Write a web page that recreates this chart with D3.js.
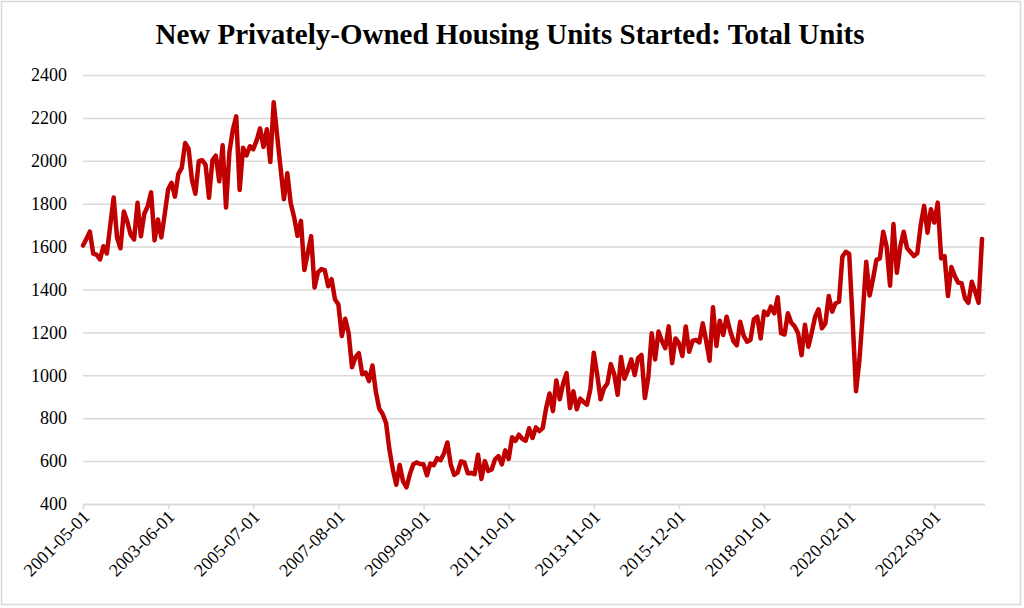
<!DOCTYPE html>
<html>
<head>
<meta charset="utf-8">
<script src="https://cdn.jsdelivr.net/npm/d3@7"></script>
<style>
  body { margin: 0; background: #fff; }
  #root { width: 1024px; height: 608px; }
</style>
</head>
<body>
<div id="root"></div>
<script>
// monthly starts, thousands of units (SAAR), 2001-05 .. 2023-05
var startMonth = "2001-05-01";
var starts = [
  1605, 1636, 1670, 1567, 1562, 1540, 1602, 1568,
  1698, 1829, 1642, 1592, 1764, 1717, 1655, 1633, 1804, 1648, 1753, 1788,
  1853, 1629, 1726, 1643, 1751, 1867, 1897, 1833, 1939, 1967, 2083, 2057,
  1911, 1846, 1998, 2003, 1981, 1828, 2002, 2024, 1905, 2072, 1782, 2042,
  2144, 2207, 1864, 2061, 2025, 2068, 2054, 2095, 2151, 2065, 2147, 1994,
  2273, 2119, 1969, 1821, 1942, 1802, 1737, 1650, 1720, 1491, 1570, 1649,
  1409, 1480, 1495, 1490, 1415, 1448, 1354, 1330, 1183, 1264, 1197, 1037,
  1084, 1103, 1005, 1013, 973, 1046, 923, 844, 820, 777, 652, 560,
  490, 582, 505, 478, 540, 585, 594, 586, 585, 534, 588, 581,
  614, 604, 636, 687, 583, 536, 546, 599, 594, 543, 545, 539,
  630, 517, 600, 554, 561, 608, 623, 585, 650, 610, 711, 694,
  723, 704, 695, 753, 708, 757, 740, 754, 847, 915, 833, 976,
  888, 962, 1010, 847, 925, 842, 891, 876, 863, 936, 1105, 1003,
  888, 940, 962, 1052, 1005, 909, 1085, 984, 1024, 1074, 1001, 1080,
  1095, 894, 990, 1196, 1074, 1204, 1160, 1126, 1228, 1056, 1172, 1150,
  1090, 1228, 1110, 1160, 1165, 1153, 1242, 1160, 1068, 1317, 1137, 1254,
  1188, 1273, 1210, 1160, 1140, 1250, 1185, 1157, 1165, 1261, 1273, 1172,
  1297, 1281, 1320, 1289, 1364, 1196, 1190, 1289, 1245, 1228, 1196, 1094,
  1236, 1133, 1200, 1273, 1308, 1219, 1242, 1370, 1297, 1336, 1343, 1553,
  1576, 1566, 1260, 926, 1071, 1290, 1529, 1372, 1450, 1538, 1545, 1669,
  1599, 1418, 1705, 1478, 1600, 1669, 1592, 1575, 1556, 1569, 1700, 1790,
  1665, 1774, 1712, 1805, 1545, 1556, 1370, 1505, 1463, 1432, 1429, 1359,
  1338, 1436, 1390, 1338, 1635
];
var xTickLabels = [
  "2001-05-01", "2003-06-01", "2005-07-01", "2007-08-01", "2009-09-01",
  "2011-10-01", "2013-11-01", "2015-12-01", "2018-01-01", "2020-02-01",
  "2022-03-01"
];
var yTicks = [400, 600, 800, 1000, 1200, 1400, 1600, 1800, 2000, 2200, 2400];

var width = 1024;
var height = 608;
var serif = "'Liberation Serif', 'Times New Roman', serif";

// category labels, one per month
var fmt = d3.timeFormat("%Y-%m-%d");
var first = d3.timeParse("%Y-%m-%d")(startMonth);
var months = starts.map((d, i) => fmt(d3.timeMonth.offset(first, i)));

var svg = d3
  .select("#root")
  .append("svg")
  .attr("width", width)
  .attr("height", height);

// outer frame
svg
  .append("rect")
  .attr("x", 1.5)
  .attr("y", 1.5)
  .attr("width", 1019)
  .attr("height", 603)
  .attr("fill", "#fff")
  .attr("stroke", "#d9d9d9")
  .attr("stroke-width", 1.5);

svg
  .append("text")
  .attr("x", 510)
  .attr("y", 44)
  .attr("text-anchor", "middle")
  .style("font-family", serif)
  .style("font-weight", "bold")
  .style("font-size", "29px")
  .style("fill", "#000")
  .text("New Privately-Owned Housing Units Started: Total Units");

var xScale = d3.scalePoint().domain(months).range([83, 982]);
var yScale = d3.scaleLinear().domain([400, 2400]).range([504, 75]);

// gridlines + y labels
var yAxis = d3
  .axisLeft(yScale)
  .tickValues(yTicks)
  .tickSize(-902)
  .tickPadding(16)
  .tickFormat(d3.format("d"));
var gy = svg.append("g").attr("transform", "translate(83,0)").call(yAxis);
gy.select(".domain").remove();
gy.selectAll("line").attr("stroke", "#d9d9d9").attr("stroke-width", 1.5);
gy.selectAll("text")
  .style("font-family", serif)
  .style("font-size", "18px")
  .style("fill", "#000");

// x axis
var xAxis = d3.axisBottom(xScale).tickValues(xTickLabels).tickSize(5).tickSizeOuter(0);
var gx = svg.append("g").attr("transform", "translate(0,504)").call(xAxis);
gx.select(".domain").attr("d", "M83,0.5H985").attr("stroke", "#d9d9d9").attr("stroke-width", 1.5);
gx.selectAll("line").attr("stroke", "#d9d9d9").attr("stroke-width", 1.5);
gx.selectAll("text")
  .style("font-family", serif)
  .style("font-size", "18px")
  .style("fill", "#000")
  .attr("text-anchor", "end")
  .attr("dy", null)
  .attr("y", null)
  .attr("transform", "translate(7,14) rotate(-45)");

// the series
var line = d3
  .line()
  .x((d, i) => xScale(months[i]))
  .y((d) => yScale(d));

svg
  .append("path")
  .datum(starts)
  .attr("d", line)
  .attr("fill", "none")
  .attr("stroke", "#c00000")
  .attr("stroke-width", 4.5)
  .attr("stroke-linejoin", "round")
  .attr("stroke-linecap", "round");
</script>
</body>
</html>
